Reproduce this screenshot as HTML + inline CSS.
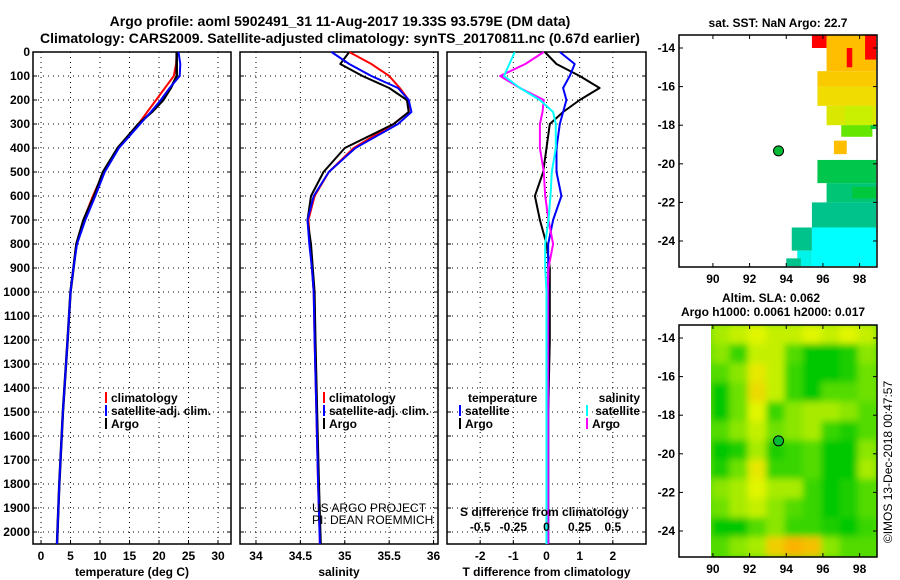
<!DOCTYPE html>
<html><head><meta charset="utf-8"><style>
body{margin:0;background:#fff;}
svg{display:block;font-family:"Liberation Sans",sans-serif;}
.t{font-weight:bold;font-size:12px;}
</style></head><body>
<svg id="c" width="900" height="580" viewBox="0 0 900 580">
<defs>
<filter id="blur" x="0" y="0" width="1" height="1"><feGaussianBlur stdDeviation="3.5"/></filter>
<clipPath id="clip2"><rect x="711" y="325" width="166" height="232"/></clipPath>
</defs>
<text x="340" y="26" font-size="14" font-weight="bold" text-anchor="middle">Argo profile: aoml 5902491_31 11-Aug-2017 19.33S 93.579E (DM data)</text>
<text x="340" y="43" font-size="14" font-weight="bold" text-anchor="middle">Climatology: CARS2009. Satellite-adjusted climatology: synTS_20170811.nc (0.67d earlier)</text>
<g id="g"></g>
</svg>
<script>
// ---- data ----
const depths = [0,50,100,150,200,250,300,400,500,600,700,800,900,1000,1200,1500,1800,2050];
const tempClim = [23,22.9,22.5,21,19.5,18,16.5,13,10.6,8.8,7.2,6,5.5,5,4.5,3.7,3.1,2.7];
const tempSat  = [23.3,23.6,23.5,21.8,20.3,18.6,16.8,13.2,10.8,9.2,7.5,6.1,5.5,5,4.5,3.7,3.1,2.7];
const tempArgo = [23,23,23,22,20.7,18.8,16.5,13,10.5,9,7.2,6,5.5,5,4.5,3.7,3.1,2.7];
const salClim = [35.05,35.3,35.5,35.62,35.72,35.72,35.55,35.1,34.82,34.66,34.59,34.61,34.63,34.65,34.66,34.68,34.7,34.72];
const salSat  = [34.85,35.05,35.3,35.6,35.72,35.75,35.6,35.12,34.82,34.65,34.58,34.6,34.63,34.65,34.66,34.68,34.7,34.72];
const salArgo = [35.05,34.95,35.2,35.5,35.7,35.72,35.55,35.0,34.76,34.62,34.58,34.62,34.64,34.66,34.67,34.69,34.71,34.73];
const dTArgo = [-0.05,0.3,1.0,1.6,1.0,0.5,0.1,0,-0.1,-0.35,-0.2,0,0.1,0.1,0.1,0.05,0.05,0.05];
const dTSat  = [0.4,0.85,0.7,0.5,0.6,0.5,0.4,0.3,0.3,0.45,0.2,0.05,0.05,0.05,0.05,0.05,0.05,0.05];
const dSSat  = [-0.24,-0.28,-0.32,-0.2,-0.05,0.05,0.07,0.07,0.04,0.03,0.015,-0.01,-0.01,0,0,0,0,0];
const dSArgo = [-0.02,-0.16,-0.35,-0.2,-0.02,-0.03,-0.05,-0.05,-0.02,-0.01,0.015,0.05,0.015,0.01,0.01,0.01,0.01,0.01];
const depthTicks = [0,100,200,300,400,500,600,700,800,900,1000,1100,1200,1300,1400,1500,1600,1700,1800,1900,2000];
const tempTicks = [0,5,10,15,20,25,30];
const salTicks = [34,34.5,35,35.5,36];
const dTTicks = [-2,-1,0,1,2];
const dSTicks = [-0.5,-0.25,0,0.25,0.5];
const lonTicks = [90,92,94,96,98];
const latTicks = [-14,-16,-18,-20,-22,-24];
const argoLon = 93.579, argoLat = -19.33;
// SST cells: [lon0, lat0, lon1, lat1, temp]
const sstCells = [
 [95.4,-13.3,96.2,-14.0,25],[96.2,-13.3,98.9,-15.2,24],[97.3,-14.0,97.6,-15.0,25],[98.3,-13.3,98.9,-14.6,25],
 [95.7,-15.2,98.9,-16.0,23.8],[95.7,-16.0,98.9,-17.0,23.5],[96.2,-17.0,98.9,-18.0,23],[97.2,-17.0,98.7,-18.0,22.6],
 [97.0,-18.0,98.7,-18.6,22.3],[98.6,-18.0,98.9,-18.2,21],[96.6,-18.8,97.3,-19.5,24],
 [95.7,-19.8,98.9,-21.0,20.8],[96.2,-21.0,98.9,-22.0,20.3],[95.4,-22.0,98.9,-23.3,20],[97.6,-21.2,98.9,-21.8,21],
 [94.3,-23.3,95.4,-24.5,20],[95.4,-23.3,98.9,-25.3,19],[94.6,-24.5,95.4,-25.3,19.2],[94.0,-24.9,94.8,-25.3,20]
];
// SLA grid rows (lat -13.3 .. -25.3, 1deg), cols lon 89.9..98.9
const slaGrid = [
 [0.6,0.7,0.8,0.7,0.7,0.8,0.7,0.8,0.7],
 [0.5,0.2,0.7,0.7,0.3,0,0,0.1,0.5],
 [0.3,0.5,0.9,0.7,0.2,0,0,0.1,0.4],
 [0,0.4,1.0,0.7,0.2,0,0.3,0.3,0.4],
 [0,0.4,0.8,0.2,0.5,0.6,0.6,0.5,0.3],
 [0.3,0.5,0.7,0.4,0.5,0.6,0.2,0.1,0.3],
 [0,0.1,0.6,0.1,0.2,0.3,0,0,0.5],
 [0.1,0.4,0.9,0.2,0.2,0.3,0,0,0.6],
 [0.5,0.6,0.8,0.6,0.6,0.2,0,0.1,0.3],
 [0.4,0.6,0.7,0.5,0.3,0.2,0,0.1,0.3],
 [0,0,0.3,0.5,0.2,0.2,0.1,0,0.2],
 [0.3,0.5,0.6,1.1,1.3,1.2,0.5,0.3,0.3]
];
// ---- drawing ----
const NS="http://www.w3.org/2000/svg", G=document.getElementById('g');
function el(tag,attrs,parent){const e=document.createElementNS(NS,tag);for(const k in attrs)e.setAttribute(k,attrs[k]);(parent||G).appendChild(e);return e;}
const PT=52, PB=544;
const yD = d => PT + d*0.24;
function lin(d0,d1,p0,p1){return v=>p0+(v-d0)*(p1-p0)/(d1-d0);}
const panels=[
 {x0:33,x1:231,sx:lin(-1.36,32.2,33,231),ticks:tempTicks,lab:'temperature (deg C)',name:'temperature-panel'},
 {x0:240,x1:438,sx:lin(33.82,36.05,240,438),ticks:salTicks,lab:'salinity',name:'salinity-panel'},
 {x0:447,x1:646,sx:lin(-3,3,447,646),ticks:dTTicks,lab:'T difference from climatology',name:'difference-panel'}
];
panels.forEach((p,i)=>{
  const g=el('g',{});
  
  
  depthTicks.forEach(d=>{
    const l=el('line',{x1:p.x0,x2:p.x1,y1:yD(d),y2:yD(d),stroke:'#000','stroke-width':1,'stroke-dasharray':'1,4'},g);
    
    
    el('line',{x1:p.x0,x2:p.x0+4,y1:yD(d),y2:yD(d),stroke:'#000'},g);
    el('line',{x1:p.x1,x2:p.x1-4,y1:yD(d),y2:yD(d),stroke:'#000'},g);
  });
  p.ticks.forEach(v=>{
    const x=p.sx(v);
    const l=el('line',{x1:x,x2:x,y1:PT,y2:PB,stroke:'#000','stroke-dasharray':'1,4'},g);
    
    
    el('line',{x1:x,x2:x,y1:PB,y2:PB-4,stroke:'#000'},g);
    const t=el('text',{x:x,y:560,'text-anchor':'middle',class:'t'},g);
    t.textContent=String(v);
    
    
  });
  el('rect',{x:p.x0,y:PT,width:p.x1-p.x0,height:PB-PT,fill:'none',stroke:'#000','stroke-width':1.5},g);
  const t=el('text',{x:(p.x0+p.x1)/2,y:576,'text-anchor':'middle',class:'t'},g);
  t.textContent=p.lab;
  
  
});
depthTicks.forEach(d=>{
  const t=el('text',{x:30,y:yD(d)+4,'text-anchor':'end',class:'t'});
  t.textContent=String(d);
  
  
});
function line(vals,sx,color,name,w){
  const pts=vals.map((v,i)=>sx(v).toFixed(1)+','+yD(depths[i]).toFixed(1)).join(' ');
  const l=el('polyline',{points:pts,fill:'none',stroke:color,'stroke-width':w||2,'stroke-linejoin':'round'});
  
  
}
const sS=lin(-0.75,0.75,447,646);
line(tempClim,panels[0].sx,'#f00','temp-climatology-line');
line(tempArgo,panels[0].sx,'#000','temp-argo-line',2.5);
line(tempSat,panels[0].sx,'#00f','temp-satellite-line');
line(salClim,panels[1].sx,'#f00','sal-climatology-line');
line(salArgo,panels[1].sx,'#000','sal-argo-line');
line(salSat,panels[1].sx,'#00f','sal-satellite-line');
line(dTArgo,panels[2].sx,'#000','dT-argo-line');
line(dTSat,panels[2].sx,'#00f','dT-satellite-line');
line(dSArgo,sS,'#f0f','dS-argo-line');
line(dSSat,sS,'#0ff','dS-satellite-line');
dSTicks.forEach(v=>{
  const t=el('text',{x:sS(v),y:531,'text-anchor':'middle',class:'t'});
  t.textContent=String(v);
  
  
});
function txt(x,y,s,name,extra){const t=el('text',Object.assign({x:x,y:y,class:'t'},extra||{}));t.textContent=s;return t;}
txt(460,516,'S difference from climatology','s-diff-axis-title');
txt(312,512,'US ARGO PROJECT','project-credit',{style:'font-weight:normal'});
txt(312,524,'PI: DEAN ROEMMICH','pi-credit',{style:'font-weight:normal'});
function leg(x,y,color,s,name){el('line',{x1:x,x2:x,y1:y-10,y2:y+1,stroke:color,'stroke-width':2});txt(x+5,y,s,name);}
[[106],[324]].forEach(a=>{
  leg(a[0],402,'#f00','climatology','legend-climatology');
  leg(a[0],415,'#00f','satellite-adj. clim.','legend-satellite');
  leg(a[0],428,'#000','Argo','legend-argo');
});
txt(468,402,'temperature','legend-temperature-header');
leg(460,415,'#00f','satellite','legend-t-satellite');
leg(460,428,'#000','Argo','legend-t-argo');
txt(640,402,'salinity','legend-salinity-header',{'text-anchor':'end'});
txt(640,415,'satellite','legend-s-satellite-text',{'text-anchor':'end'});
txt(620,428,'Argo','legend-s-argo-text',{'text-anchor':'end'});
el('line',{x1:587,x2:587,y1:405,y2:416,stroke:'#0ff','stroke-width':2});
el('line',{x1:587,x2:587,y1:418,y2:429,stroke:'#f0f','stroke-width':2});
// ---- maps ----
const mx=lin(88.15,98.95,679,877);
function map(y0,y1,latTopPx,name){
  const my=lin(-14,-24,latTopPx,latTopPx+193);
  return {my:my,y0:y0,y1:y1,name:name};
}
const m1=map(35,267,48,'sst-map'), m2=map(325,557,338,'sla-map');
function sstColor(t){
  const stops=[[19,[0,255,255]],[20,[0,195,140]],[21,[0,200,60]],[22,[0,220,0]],[22.6,[200,240,0]],[23.5,[240,220,0]],[24,[255,190,0]],[25,[255,0,0]]];
  for(let i=1;i<stops.length;i++){if(t<=stops[i][0]){const a=stops[i-1],b=stops[i],f=Math.max(0,(t-a[0])/(b[0]-a[0]));return 'rgb('+a[1].map((c,j)=>Math.round(c+(b[1][j]-c)*f)).join(',')+')';}}
  return 'rgb(255,0,0)';
}
sstCells.forEach(c=>{
  const r=el('rect',{x:mx(c[0]),y:m1.my(c[1]),width:mx(c[2])-mx(c[0]),height:m1.my(c[3])-m1.my(c[1]),fill:sstColor(c[4])});
  
  
});
function slaColor(v){
  const stops=[[0,[0,200,0]],[0.4,[110,225,0]],[0.8,[225,245,0]],[1.3,[250,180,0]]];
  for(let i=1;i<stops.length;i++){if(v<=stops[i][0]){const a=stops[i-1],b=stops[i],f=Math.max(0,(v-a[0])/(b[0]-a[0]));return 'rgb('+a[1].map((c,j)=>Math.round(c+(b[1][j]-c)*f)).join(',')+')';}}
  return 'rgb(250,180,0)';
}
const slaG=el('g',{'clip-path':'url(#clip2)'});
const slaInner=el('g',{filter:'url(#blur)'},slaG);
el('rect',{x:705,y:318,width:180,height:246,fill:slaColor(0.3)},slaInner);
slaGrid.forEach((row,ri)=>row.forEach((v,ci)=>{
  const lon0=89.9+ci, lat0=-13.3-ri;
  const r=el('rect',{x:mx(lon0),y:m2.my(lat0),width:mx(lon0+1)-mx(lon0)+0.5,height:m2.my(lat0-1)-m2.my(lat0)+0.5,fill:slaColor(v)},slaInner);
  
  
}));
[m1,m2].forEach(m=>{
  const b=el('rect',{x:679,y:m.y0,width:198,height:m.y1-m.y0,fill:'none',stroke:'#000','stroke-width':1.5});
  
  
  lonTicks.forEach(l=>{const x=mx(l);el('line',{x1:x,x2:x,y1:m.y1,y2:m.y1-4,stroke:'#000'});el('line',{x1:x,x2:x,y1:m.y0,y2:m.y0+4,stroke:'#000'});
    txt(x,m.y1+16,String(l),'lon-tick-label',{'text-anchor':'middle'});});
  latTicks.forEach(l=>{const y=m.my(l);el('line',{x1:679,x2:683,y1:y,y2:y,stroke:'#000'});el('line',{x1:877,x2:873,y1:y,y2:y,stroke:'#000'});
    txt(675,y+4,String(l),'lat-tick-label',{'text-anchor':'end'});});
  const d=el('circle',{cx:mx(argoLon),cy:m.my(argoLat),r:5,fill:'#0b3',stroke:'#000','stroke-width':1});
  
  
});
txt(778,27,'sat. SST: NaN Argo: 22.7','sst-map-title',{'text-anchor':'middle'});
txt(771,302,'Altim. SLA: 0.062','sla-map-title',{'text-anchor':'middle'});
txt(773,316,'Argo h1000: 0.0061 h2000: 0.017','sla-map-subtitle',{'text-anchor':'middle'});
txt(0,0,'©IMOS 13-Dec-2018 00:47:57','imos-credit',{'text-anchor':'middle',transform:'translate(892,462) rotate(-90)',style:'font-weight:normal'});
</script>
</body></html>
